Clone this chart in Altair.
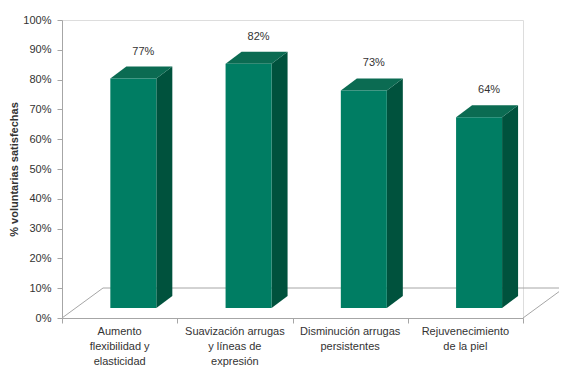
import altair as alt
import pandas as pd

# ---- data ----
categories = [
    "Aumento\nflexibilidad y\nelasticidad",
    "Suavización arrugas\ny líneas de\nexpresión",
    "Disminución arrugas\npersistentes",
    "Rejuvenecimiento\nde la piel",
]
values = [0.77, 0.82, 0.73, 0.64]
value_labels = ["77%", "82%", "73%", "64%"]
y_ticks = [round(i / 10, 1) for i in range(11)]

# ---- styling / pseudo-3D geometry (pixels) ----
W, H = 461, 298
XU = W / len(categories)   # px per category unit
YU = H                     # px per unit of y (0..1)
FLOOR_DX, FLOOR_DY = 41, 30
SHIFT_X, SHIFT_Y = 13.7, 10
DEPTH_X, DEPTH_Y = 16, 12
BAR_W = 46
FONT = "Liberation Sans"
TXT = "#333333"
FRONT, TOP, SIDE = "#007D63", "#0B6B52", "#00523D"
GRID = "#A6A6A6"

front_rows, side_rows, top_rows, lab_rows, cat_rows = [], [], [], [], []
for i, (c, v, lab) in enumerate(zip(categories, values, value_labels)):
    cx = (i + 0.5) * XU
    fl = cx - BAR_W / 2 + SHIFT_X
    fr = fl + BAR_W
    fb = SHIFT_Y
    ft = SHIFT_Y + v * YU
    front_rows.append(dict(bar=i, x=fl / XU, x2=fr / XU, y=fb / YU, y2=ft / YU))
    side_rows += [
        dict(bar=i, x=fr / XU, lo=fb / YU, hi=ft / YU),
        dict(bar=i, x=(fr + DEPTH_X) / XU, lo=(fb + DEPTH_Y) / YU, hi=(ft + DEPTH_Y) / YU),
    ]
    top_rows += [
        dict(bar=i, x=fl / XU, lo=ft / YU, hi=ft / YU),
        dict(bar=i, x=(fl + DEPTH_X) / XU, lo=ft / YU, hi=(ft + DEPTH_Y) / YU),
        dict(bar=i, x=fr / XU, lo=ft / YU, hi=(ft + DEPTH_Y) / YU),
        dict(bar=i, x=(fr + DEPTH_X) / XU, lo=(ft + DEPTH_Y) / YU, hi=(ft + DEPTH_Y) / YU),
    ]
    lab_rows.append(dict(x=(fl + BAR_W / 2 + 10) / XU, y=ft / YU, t=lab))
    cat_rows.append(dict(x=i + 0.5, t=c))

fdx = FLOOR_DX / XU
fdy = FLOOR_DY / YU
n = len(categories)
floor = pd.DataFrame([
    dict(x=0, y=0, x2=fdx, y2=fdy),
    dict(x=fdx, y=fdy, x2=n + fdx, y2=fdy),
    dict(x=n, y=0, x2=n + fdx, y2=fdy),
])

xs = alt.Scale(domain=[0, n], nice=False, zero=False)
ys = alt.Scale(domain=[0, 1], nice=False)

xaxis = alt.Axis(values=list(range(n + 1)), labels=False, title=None, grid=False,
                 domainColor=GRID, tickColor=GRID, tickSize=5)
yaxis = alt.Axis(values=y_ticks, format=".0%", title="% voluntarias satisfechas",
                 grid=False, domainColor=GRID, tickColor=GRID, tickSize=5,
                 labelOverlap=False,
                 labelFont=FONT, labelFontSize=11, labelColor=TXT, labelPadding=6,
                 titleFont=FONT, titleFontSize=11, titleFontWeight="bold",
                 titleColor=TXT, titlePadding=3)


def X(field):
    return alt.X(field, scale=xs, axis=xaxis, title=None)


def Y(field):
    return alt.Y(field, scale=ys, axis=yaxis, title="% voluntarias satisfechas")


floor_l = alt.Chart(floor).mark_rule(color=GRID, strokeWidth=1).encode(
    x=X("x:Q"), x2="x2:Q", y=Y("y:Q"), y2="y2:Q")

front = alt.Chart(pd.DataFrame(front_rows)).mark_rect(color=FRONT).encode(
    x=X("x:Q"), x2="x2:Q", y=Y("y:Q"), y2="y2:Q")

side = alt.Chart(pd.DataFrame(side_rows)).mark_area(color=SIDE, opacity=1).encode(
    x=X("x:Q"), y=Y("hi:Q"), y2="lo:Q", detail="bar:N")

top = alt.Chart(pd.DataFrame(top_rows)).mark_area(color=TOP, opacity=1).encode(
    x=X("x:Q"), y=Y("hi:Q"), y2="lo:Q", detail="bar:N")

vlab = alt.Chart(pd.DataFrame(lab_rows)).mark_text(
    font=FONT, fontSize=11, color=TXT, baseline="middle", dy=-27).encode(
    x=X("x:Q"), y=Y("y:Q"), text="t:N")

clab = alt.Chart(pd.DataFrame(cat_rows)).mark_text(
    font=FONT, fontSize=11, color=TXT, baseline="top", lineBreak="\n",
    lineHeight=15).encode(
    x=X("x:Q"), y=alt.value(H + 8), text="t:N")

chart = alt.layer(floor_l, side, top, front, vlab, clab).properties(
    width=W, height=H,
    autosize=alt.AutoSizeParams(type="none"),
    padding={"left": 54, "top": 12, "right": 36, "bottom": 52},
).configure_view(stroke=None).configure(background="white")

chart.save("out.html", embed_options={"renderer": "svg", "actions": False})
